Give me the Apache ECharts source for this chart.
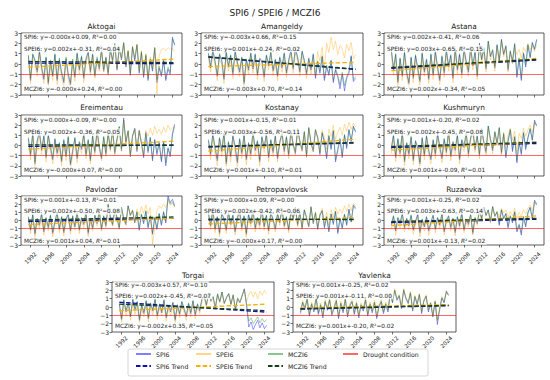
<!DOCTYPE html>
<html><head><meta charset="utf-8">
<script src="https://cdn.jsdelivr.net/npm/echarts@6/dist/echarts.min.js"></script>
<style>html,body{margin:0;padding:0;background:#fff}#c{width:550px;height:380px}</style>
</head><body><div id="c"></div>
<script>
// ---------- DATA ----------
const years = [1991.5,1992,1992.5,1993,1993.5,1994,1994.5,1995,1995.5,1996,
 1996.5,1997,1997.5,1998,1998.5,1999,1999.5,2000,2000.5,2001,
 2001.5,2002,2002.5,2003,2003.5,2004,2004.5,2005,2005.5,2006,
 2006.5,2007,2007.5,2008,2008.5,2009,2009.5,2010,2010.5,2011,
 2011.5,2012,2012.5,2013,2013.5,2014,2014.5,2015,2015.5,2016,
 2016.5,2017,2017.5,2018,2018.5,2019,2019.5,2020,2020.5,2021,
 2021.5,2022,2022.5,2023,2023.5,2024,2024.5];
const xTickYears = [1992,1996,2000,2004,2008,2012,2016,2020,2024];
const yTicks = [-3,-2,-1,0,1,2,3];
const droughtLevel = -1;
const stations = ['Aktogai','Amangeldy','Astana','Ereimentau','Kostanay','Kushmuryn','Pavlodar','Petropavlovsk','Ruzaevka','Torgai','Yavlenka'];

const aktogaiSPI6 = [0.8,-1.6,0.9,0.3,-0.8,1.2,-0.4,-1.5,0.6,-1.9,
 0.2,-1.2,0.9,-1.6,0.4,-0.9,-1.8,0.5,-1.1,-2.0,
 0.3,-1.3,1.0,-0.6,0.7,-1.4,0.4,1.1,-0.8,0.9,
 -1.2,0.5,-0.5,1.3,-0.7,0.6,-1.0,1.4,0.2,1.9,
 -0.6,1.5,0.4,2.0,-0.3,1.2,-1.1,1.6,0.3,1.8,
 -0.9,1.1,-1.3,0.8,-1.6,0.4,-0.7,1.5,-1.8,-0.4,
 -1.2,0.3,-1.6,-0.5,-1.0,2.6,1.8];
const aktogaiMCZI6 = [0.9,-1.4,1.0,0.4,-0.6,1.3,-0.2,-1.3,0.7,-1.7,
 0.4,-1.0,1.0,-1.4,0.6,-0.7,-1.6,0.7,-0.9,-1.8,
 0.5,-1.1,1.1,-0.4,0.8,-1.2,0.6,1.2,-0.6,1.0,
 -1.0,0.7,-0.3,1.4,-0.5,0.7,-0.8,1.5,0.4,2.0,
 -0.4,1.6,0.6,2.1,-0.1,1.3,-0.9,1.7,0.5,1.9,
 -0.7,1.2,-1.1,0.9,-1.4,0.5,-0.5,1.6,-1.5,-0.2,
 -1.0,0.4,-1.4,-0.3,-0.8,2.4,1.9];
const aktogaiSPEI6 = [0.4,-1.9,0.6,-0.2,-1.2,0.9,-0.8,-1.9,0.2,-2.2,
 -0.3,-1.6,0.5,-2.0,-0.1,-1.3,-2.2,0.1,-1.5,-2.4,
 -0.1,-1.7,0.6,-1.0,0.3,-1.8,0.1,0.8,-1.1,0.7,
 -1.4,0.3,-0.7,1.2,-0.8,0.5,-1.1,1.3,0.3,1.8,
 -0.5,1.5,0.5,2.0,-0.2,1.3,-0.9,1.7,0.6,1.9,
 -0.6,1.3,-1.0,1.0,-1.2,0.7,-0.4,1.6,-2.9,0.8,
 1.4,1.5,1.3,1.6,1.4,1.5,1.2];

const amangeldySPI6 = [1.0,-0.4,1.3,0.2,-1.2,0.9,0.3,-1.5,1.1,-0.3,
 0.8,-1.0,1.2,0.1,-0.8,0.6,-1.9,0.4,-0.6,1.0,
 -0.5,0.9,-1.1,0.5,0.2,-1.3,0.8,-0.2,1.1,-0.7,
 0.4,-1.2,0.6,-0.4,1.0,-0.9,0.3,1.3,-0.5,1.5,
 0.6,-0.8,1.2,0.3,-1.0,0.5,-0.6,0.9,-1.4,0.2,
 -0.9,0.7,-1.6,-0.3,-1.1,0.3,-1.8,-0.6,-1.3,-2.4,
 -1.0,-2.6,-1.4,-0.9,0.8,-1.7,-1.4];
const amangeldyMCZI6 = [1.1,-0.2,1.4,0.3,-1.0,1.0,0.4,-1.3,1.2,-0.1,
 0.9,-0.8,1.3,0.2,-0.6,0.7,-1.7,0.5,-0.4,1.1,
 -0.3,1.0,-0.9,0.6,0.3,-1.1,0.9,0.0,1.2,-0.5,
 0.5,-1.0,0.7,-0.2,1.1,-0.7,0.4,1.4,-0.3,1.5,
 0.7,-0.6,1.3,0.4,-0.8,0.6,-0.4,1.0,-1.2,0.3,
 -0.7,0.8,-1.4,-0.1,-0.9,0.4,-1.6,-0.4,-1.1,-2.0,
 -0.8,-2.1,-1.2,-0.7,0.7,-1.5,-1.2];
const amangeldySPEI6 = [0.6,-0.8,0.9,-0.2,-1.6,0.5,-0.1,-1.9,0.7,-0.7,
 0.4,-1.4,0.8,-0.3,-1.2,0.2,-2.3,0.0,-1.0,0.6,
 -0.9,0.5,-1.5,0.1,-0.2,-1.7,0.4,-0.6,0.7,-1.1,
 0.0,-1.6,0.2,-0.8,0.6,-1.3,-0.1,0.9,-0.9,1.1,
 0.2,-1.2,0.8,-0.1,-1.4,0.1,-1.0,0.5,-0.8,1.2,
 0.3,1.6,-0.4,2.0,1.1,2.6,1.4,2.2,0.9,1.8,
 1.5,0.6,1.9,1.3,2.1,0.5,0.9];

const astanaSPI6 = [1.4,-0.6,0.9,-1.8,0.5,-1.2,1.1,-0.9,-1.9,0.6,
 -1.4,0.8,-0.5,-1.7,1.0,-0.8,0.4,-1.5,0.9,-1.1,
 1.2,-0.4,-1.6,0.7,-0.9,1.3,-0.3,0.8,-1.4,1.5,
 -0.6,0.9,-1.0,1.4,0.2,-0.8,1.6,-0.2,1.1,-1.2,
 2.0,0.4,1.5,-0.5,2.2,0.7,1.3,-0.4,1.8,0.3,
 2.4,0.9,1.7,-0.6,1.2,0.2,1.9,-1.3,0.5,-1.6,
 1.0,-0.3,1.8,0.6,2.1,1.4,2.4];
const astanaMCZI6 = [1.5,-0.4,1.0,-1.6,0.6,-1.0,1.2,-0.7,-1.7,0.7,
 -1.2,0.9,-0.3,-1.5,1.1,-0.6,0.5,-1.3,1.0,-0.9,
 1.3,-0.2,-1.4,0.8,-0.7,1.4,-0.1,0.9,-1.2,1.6,
 -0.4,1.0,-0.8,1.5,0.3,-0.6,1.7,0.0,1.2,-1.0,
 2.0,0.5,1.6,-0.3,2.2,0.8,1.4,-0.2,1.9,0.4,
 2.3,1.0,1.8,-0.4,1.3,0.3,2.0,-1.1,0.6,-1.4,
 1.1,-0.1,1.9,0.7,2.0,1.5,2.3];
const astanaSPEI6 = [1.0,-1.1,0.5,-2.2,0.1,-1.6,0.7,-1.3,-2.3,0.2,
 -1.8,0.4,-0.9,-2.1,0.6,-1.2,0.0,-1.9,0.5,-1.5,
 0.8,-0.8,-2.0,0.3,-1.3,0.9,-0.7,0.4,-1.8,1.1,
 -1.0,0.5,-1.4,1.0,-0.2,-1.2,1.2,-0.6,0.7,-1.5,
 1.7,0.1,1.2,-0.8,1.9,0.4,1.0,-0.7,1.5,0.1,
 2.1,0.7,1.5,-0.8,1.0,0.0,1.7,0.9,1.4,0.6,
 1.6,1.2,2.0,1.4,1.8,1.2,1.9];

const ereimentauSPI6 = [0.7,-1.0,1.2,-1.8,0.4,1.3,-0.5,0.9,-1.2,1.0,
 -0.3,-1.4,0.6,-0.8,0.2,-1.6,0.5,-1.1,0.8,-1.9,
 -0.6,0.7,-1.3,0.3,-0.4,1.1,-1.0,0.5,-1.5,0.9,
 -0.7,1.4,-0.2,-1.3,0.8,-0.9,1.2,-0.4,1.5,-0.8,
 0.6,1.8,-0.5,2.7,0.3,1.4,-1.1,0.9,1.7,-0.6,
 1.5,0.2,-1.2,1.3,-0.7,0.8,-1.5,0.6,-0.9,0.3,
 -1.6,0.4,-2.0,-0.3,-1.1,1.2,2.1];
const ereimentauMCZI6 = [0.8,-0.8,1.3,-1.6,0.5,1.4,-0.3,1.0,-1.0,1.1,
 -0.1,-1.2,0.7,-0.6,0.3,-1.4,0.6,-0.9,0.9,-1.7,
 -0.4,0.8,-1.1,0.4,-0.2,1.2,-0.8,0.6,-1.3,1.0,
 -0.5,1.5,0.0,-1.1,0.9,-0.7,1.3,-0.2,1.6,-0.6,
 0.7,1.9,-0.3,2.5,0.4,1.5,-0.9,1.0,1.6,-0.4,
 1.4,0.3,-1.0,1.2,-0.5,0.7,-1.3,0.5,-0.7,0.2,
 -1.4,0.3,-1.7,-0.2,-0.9,1.0,1.9];
const ereimentauSPEI6 = [0.3,-1.4,0.8,-2.1,0.0,0.9,-0.9,0.5,-1.6,0.6,
 -0.7,-1.8,0.2,-1.2,-0.2,-2.0,0.1,-1.5,0.4,-2.3,
 -1.0,0.3,-1.7,-0.1,-0.8,0.8,-1.3,0.2,-1.8,0.6,
 -1.0,1.1,-0.5,-1.5,0.6,-1.1,1.0,-0.6,1.3,-1.0,
 0.4,1.6,-0.6,2.4,0.2,1.3,-1.0,0.8,1.6,-0.5,
 1.5,0.4,-0.8,1.5,0.9,1.7,1.0,1.9,1.2,1.6,
 1.1,1.8,1.3,2.0,1.5,1.7,2.0];

const kostanaySPI6 = [0.5,-0.9,1.1,-0.3,-1.5,0.7,-0.6,1.2,-1.8,0.3,
 -1.1,0.9,-0.2,-1.7,0.6,-0.8,1.0,-1.4,0.2,-0.9,
 1.3,-0.5,0.4,-1.6,0.8,-0.3,1.1,-1.2,0.5,-0.7,
 0.9,-1.3,0.3,1.2,-0.6,0.8,-1.0,1.4,0.1,-0.8,
 1.6,0.4,-0.5,1.3,-1.1,1.7,0.2,-0.6,1.5,0.7,
 -0.9,1.2,0.3,-1.3,0.9,-0.4,1.4,-1.6,-0.5,0.6,
 -1.2,1.0,-0.3,1.5,0.4,1.9,1.3];
const kostanayMCZI6 = [0.6,-0.7,1.2,-0.1,-1.3,0.8,-0.4,1.3,-1.6,0.4,
 -0.9,1.0,0.0,-1.5,0.7,-0.6,1.1,-1.2,0.3,-0.7,
 1.4,-0.3,0.5,-1.4,0.9,-0.1,1.2,-1.0,0.6,-0.5,
 1.0,-1.1,0.4,1.3,-0.4,0.9,-0.8,1.5,0.2,-0.6,
 1.7,0.5,-0.3,1.4,-0.9,1.8,0.3,-0.4,1.6,0.8,
 -0.7,1.3,0.4,-1.1,1.0,-0.2,1.5,-1.4,-0.3,0.7,
 -1.0,1.1,-0.1,1.6,0.5,1.8,1.4];
const kostanaySPEI6 = [0.1,-1.4,0.7,-0.8,-2.0,0.3,-1.1,0.8,-2.3,-0.2,
 -1.6,0.5,-0.7,-2.2,0.2,-1.3,0.6,-1.9,-0.2,-1.4,
 0.9,-1.0,0.0,-2.0,0.4,-0.7,0.8,-1.6,0.2,-1.1,
 0.6,-1.6,0.0,1.0,-0.9,0.6,-1.3,1.2,-0.1,-1.0,
 1.4,0.3,-0.6,1.2,-1.2,1.6,0.2,-0.6,1.5,0.8,
 -0.6,1.5,0.8,-0.4,1.6,0.9,2.0,0.6,1.3,1.8,
 1.0,2.1,1.4,2.3,1.6,2.2,1.8];

const kushmurynSPI6 = [-0.4,1.0,-1.2,0.6,-0.8,1.3,-1.6,0.2,-0.9,0.8,
 -1.5,0.4,-0.3,-1.8,0.7,-1.0,0.9,-0.6,-1.4,0.5,
 -0.9,1.1,-0.2,-1.3,0.6,-0.7,1.4,-1.1,0.3,-0.5,
 1.0,-1.4,0.5,-0.2,1.2,-0.9,0.7,1.5,-0.4,0.9,
 -1.0,1.6,0.3,-0.7,1.9,0.6,-0.5,1.3,0.2,1.7,
 -0.8,1.1,-1.2,0.4,1.5,-0.6,0.8,-1.7,0.3,-0.9,
 1.2,-0.4,0.7,1.6,0.5,2.5,1.9];
const kushmurynMCZI6 = [-0.2,1.1,-1.0,0.7,-0.6,1.4,-1.4,0.3,-0.7,0.9,
 -1.3,0.5,-0.1,-1.6,0.8,-0.8,1.0,-0.4,-1.2,0.6,
 -0.7,1.2,0.0,-1.1,0.7,-0.5,1.5,-0.9,0.4,-0.3,
 1.1,-1.2,0.6,0.0,1.3,-0.7,0.8,1.6,-0.2,1.0,
 -0.8,1.7,0.4,-0.5,1.9,0.7,-0.3,1.4,0.3,1.8,
 -0.6,1.2,-1.0,0.5,1.6,-0.4,0.9,-1.5,0.4,-0.7,
 1.3,-0.2,0.8,1.7,0.6,2.3,2.0];
const kushmurynSPEI6 = [-0.8,0.6,-1.6,0.2,-1.2,0.9,-2.0,-0.2,-1.3,0.4,
 -1.9,0.0,-0.7,-2.2,0.3,-1.4,0.5,-1.0,-1.8,0.1,
 -1.3,0.7,-0.6,-1.7,0.2,-1.1,1.0,-1.5,-0.1,-0.9,
 0.6,-1.8,0.1,-0.6,0.9,-1.2,0.4,1.2,-0.7,0.6,
 -1.3,1.3,0.0,-1.0,1.6,0.4,-0.8,1.1,0.0,1.5,
 -0.9,1.3,-0.3,1.0,1.7,0.5,1.4,-0.6,1.2,0.7,
 1.7,0.9,1.5,2.0,1.3,2.2,1.9];

const pavlodarSPI6 = [0.4,-1.2,0.7,-1.7,0.2,-0.6,0.8,-1.4,0.3,-0.9,
 0.6,-1.6,-0.2,0.9,-1.1,0.4,-1.5,0.1,0.7,-1.3,
 0.5,-0.8,1.0,-1.2,0.3,-0.5,0.9,-1.6,0.2,-1.0,
 0.6,-0.4,1.1,-1.1,0.5,-0.7,2.0,0.4,-0.6,1.3,
 0.3,-1.0,1.6,0.2,-0.5,1.8,0.6,1.2,-0.3,1.0,
 -1.2,0.7,-0.4,1.1,-0.9,0.5,-1.7,0.3,-1.1,0.8,
 -0.6,1.0,-0.3,3.0,2.2,2.6,1.8];
const pavlodarMCZI6 = [0.5,-1.0,0.8,-1.5,0.3,-0.4,0.9,-1.2,0.4,-0.7,
 0.7,-1.4,0.0,1.0,-0.9,0.5,-1.3,0.2,0.8,-1.1,
 0.6,-0.6,1.1,-1.0,0.4,-0.3,1.0,-1.4,0.3,-0.8,
 0.7,-0.2,1.2,-0.9,0.6,-0.5,1.9,0.5,-0.4,1.4,
 0.4,-0.8,1.6,0.3,-0.3,1.8,0.7,1.3,-0.1,1.1,
 -1.0,0.8,-0.2,1.2,-0.7,0.6,-1.5,0.4,-0.9,0.9,
 -0.4,1.1,-0.1,2.7,2.0,2.3,1.7];
const pavlodarSPEI6 = [0.0,-1.6,0.3,-2.1,-0.2,-1.0,0.4,-1.8,-0.1,-1.3,
 0.2,-2.0,-0.6,0.5,-1.5,0.0,-1.9,-0.3,0.3,-1.7,
 0.1,-1.2,0.7,-1.6,0.0,-0.9,0.6,-2.0,-0.1,-1.3,
 0.4,-0.7,0.9,-1.3,0.3,-0.9,1.8,0.3,-0.7,1.2,
 0.2,-1.1,1.5,0.1,-0.6,1.7,0.6,1.2,-0.3,1.4,
 0.6,1.7,0.9,1.9,0.8,1.6,-2.9,-1.0,1.2,1.8,
 1.5,2.0,1.6,2.4,1.9,2.1,1.6];

const petropavlovskSPI6 = [0.9,-0.7,1.3,-1.1,0.4,-1.6,0.8,0.2,-1.2,1.0,
 -0.5,0.6,-1.4,0.3,1.1,-0.9,0.5,-1.7,0.7,-0.4,
 1.2,-1.0,0.3,-0.6,1.4,-0.8,0.6,-1.3,0.9,0.1,
 -1.1,0.8,-0.3,1.5,-0.7,0.4,-1.2,1.1,0.2,1.6,
 -0.6,1.0,-1.0,1.3,0.3,-0.8,1.7,-0.4,0.9,-1.1,
 0.6,1.2,-0.9,0.4,-1.4,0.8,-0.5,1.1,-1.6,0.2,
 -1.0,0.7,-0.6,1.4,-0.2,1.9,1.5];
const petropavlovskMCZI6 = [1.0,-0.5,1.4,-0.9,0.5,-1.4,0.9,0.3,-1.0,1.1,
 -0.3,0.7,-1.2,0.4,1.2,-0.7,0.6,-1.5,0.8,-0.2,
 1.3,-0.8,0.4,-0.4,1.5,-0.6,0.7,-1.1,1.0,0.2,
 -0.9,0.9,-0.1,1.5,-0.5,0.5,-1.0,1.2,0.3,1.6,
 -0.4,1.1,-0.8,1.3,0.4,-0.6,1.6,-0.2,1.0,-0.9,
 0.7,1.2,-0.7,0.5,-1.2,0.8,-0.3,1.1,-1.4,0.3,
 -0.8,0.8,-0.4,1.3,-0.1,1.7,1.4];
const petropavlovskSPEI6 = [0.5,-1.1,0.9,-1.5,0.0,-2.0,0.4,-0.2,-1.6,0.6,
 -0.9,0.2,-1.8,-0.1,0.7,-1.3,0.1,-2.1,0.3,-0.8,
 0.8,-1.4,-0.1,-1.0,1.0,-1.2,0.2,-1.7,0.5,-0.3,
 -1.4,0.5,-0.6,1.2,-1.0,0.1,-1.5,0.9,0.0,1.4,
 -0.8,0.9,-1.1,1.2,0.3,-0.8,1.6,-0.3,1.0,-0.7,
 0.9,1.5,-0.3,1.0,-0.6,1.3,0.4,1.6,0.8,1.4,
 0.9,1.8,1.1,2.0,1.2,2.1,1.7];

const ruzaevkaSPI6 = [-0.6,0.5,-1.3,0.3,-0.4,0.8,-0.9,0.2,-0.7,0.6,
 -1.2,-0.2,0.7,-1.5,0.1,-0.8,0.4,-1.3,-0.3,0.6,
 -1.1,0.3,-0.6,0.8,-1.4,-0.1,0.5,-0.9,0.2,-1.5,
 0.4,-0.7,0.9,-1.2,0.1,-0.5,0.7,-1.6,0.3,-0.4,
 1.2,0.2,1.6,0.6,1.3,-0.2,1.7,0.5,1.0,-0.6,
 1.3,0.2,0.8,-0.9,0.5,-0.3,1.0,-1.4,-0.6,-1.8,
 0.4,-0.8,0.9,1.6,0.2,2.5,2.0];
const ruzaevkaMCZI6 = [-0.4,0.6,-1.1,0.4,-0.2,0.9,-0.7,0.3,-0.5,0.7,
 -1.0,0.0,0.8,-1.3,0.2,-0.6,0.5,-1.1,-0.1,0.7,
 -0.9,0.4,-0.4,0.9,-1.2,0.1,0.6,-0.7,0.3,-1.3,
 0.5,-0.5,1.0,-1.0,0.2,-0.3,0.8,-1.4,0.4,-0.2,
 1.3,0.3,1.6,0.7,1.3,0.0,1.7,0.6,1.1,-0.4,
 1.3,0.3,0.9,-0.7,0.6,-0.1,1.1,-1.2,-0.4,-1.5,
 0.5,-0.6,1.0,1.6,0.3,2.3,1.9];
const ruzaevkaSPEI6 = [-1.0,0.1,-1.8,-0.1,-0.9,0.4,-1.4,-0.2,-1.2,0.2,
 -1.7,-0.6,0.3,-2.0,-0.3,-1.3,0.0,-1.8,-0.7,0.2,
 -1.5,-0.1,-1.0,0.5,-1.8,-0.5,0.2,-1.3,-0.1,-1.9,
 0.1,-1.1,0.6,-1.5,-0.2,-0.8,0.5,-1.8,0.1,-0.6,
 1.0,0.1,1.5,0.5,1.2,-0.3,1.6,0.5,1.1,0.4,
 1.5,0.9,1.3,0.4,1.1,0.6,1.5,0.2,1.0,0.5,
 1.3,0.8,1.5,1.9,1.2,2.2,1.9];

const torgaiSPI6 = [0.3,-1.5,0.8,-0.6,0.5,-1.2,0.9,-0.4,0.6,-1.6,
 0.2,-0.8,0.7,-1.4,0.4,-0.5,0.9,-1.1,0.3,-0.7,
 0.8,-1.3,0.1,-0.6,0.5,-1.6,0.2,-0.9,0.6,-0.3,
 -1.2,0.4,-0.8,0.7,-1.0,0.3,-0.5,0.9,1.3,0.2,
 1.6,0.7,1.2,-0.2,1.5,0.6,1.8,0.4,1.1,1.6,
 0.3,1.4,-0.4,1.0,0.5,1.3,2.2,0.2,-2.4,-1.8,
 -2.7,-2.1,-1.6,-2.5,-1.9,-2.6,-2.2];
const torgaiMCZI6 = [0.4,-1.3,0.9,-0.4,0.6,-1.0,1.0,-0.2,0.7,-1.4,
 0.3,-0.6,0.8,-1.2,0.5,-0.3,1.0,-0.9,0.4,-0.5,
 0.9,-1.1,0.2,-0.4,0.6,-1.4,0.3,-0.7,0.7,-0.1,
 -1.0,0.5,-0.6,0.8,-0.8,0.4,-0.3,1.0,1.4,0.3,
 1.7,0.8,1.3,0.0,1.6,0.7,1.8,0.5,1.2,1.6,
 0.4,1.5,-0.2,1.1,0.6,1.4,2.1,0.3,-1.7,-1.3,
 -2.0,-1.6,-1.2,-1.9,-1.4,-1.8,-1.5];
const torgaiSPEI6 = [-0.2,-1.9,0.4,-1.1,0.0,-1.6,0.5,-0.9,0.2,-2.0,
 -0.3,-1.2,0.3,-1.8,0.0,-1.0,0.5,-1.5,-0.1,-1.1,
 0.4,-1.7,-0.3,-1.0,0.1,-2.0,-0.2,-1.3,0.2,-0.7,
 -1.6,0.0,-1.2,0.4,-1.4,0.0,-0.8,0.7,1.1,0.0,
 1.5,0.6,1.1,-0.3,1.4,0.5,1.7,0.4,1.0,1.5,
 0.3,1.4,-0.3,1.0,0.5,1.3,2.1,0.6,1.5,1.9,
 1.2,1.8,1.0,1.9,1.4,2.0,1.6];

const yavlenkaSPI6 = [-0.8,0.5,-0.3,0.9,-1.1,0.3,-0.6,1.0,-0.9,0.2,
 -1.3,0.6,-0.4,0.8,-1.0,-0.2,0.7,-1.4,0.4,-0.7,
 0.9,-1.2,0.1,0.6,-0.9,0.4,-1.3,0.2,-0.5,0.8,
 -1.1,0.3,-0.7,0.5,-1.4,0.0,0.6,-0.8,0.3,-0.6,
 1.6,0.5,2.0,0.8,1.3,-0.2,2.1,1.0,0.4,1.7,
 -0.5,1.2,0.3,1.5,-0.8,0.7,1.3,-0.6,0.4,-1.2,
 0.6,-2.1,-0.4,1.1,0.5,1.9,1.4];
const yavlenkaMCZI6 = [-0.6,0.6,-0.1,1.0,-0.9,0.4,-0.4,1.1,-0.7,0.3,
 -1.1,0.7,-0.2,0.9,-0.8,0.0,0.8,-1.2,0.5,-0.5,
 1.0,-1.0,0.2,0.7,-0.7,0.5,-1.1,0.3,-0.3,0.9,
 -0.9,0.4,-0.5,0.6,-1.2,0.1,0.7,-0.6,0.4,-0.4,
 1.6,0.6,2.0,0.9,1.4,0.0,2.0,1.1,0.5,1.7,
 -0.3,1.3,0.4,1.5,-0.6,0.8,1.3,-0.4,0.5,-1.0,
 0.7,-1.6,-0.2,1.1,0.6,1.8,1.4];
const yavlenkaSPEI6 = [-0.5,0.8,0.0,1.2,-0.8,0.6,-0.3,1.3,-0.6,0.5,
 -1.0,0.9,-0.1,1.1,-0.7,0.1,1.0,-1.1,0.7,-0.4,
 1.2,-0.9,0.4,0.9,-0.6,0.7,-1.0,0.5,-0.2,1.1,
 -0.8,0.6,-0.4,0.8,-1.1,0.3,0.9,-0.5,0.6,-0.3,
 1.8,0.7,2.2,1.0,1.5,0.1,2.2,1.2,0.6,1.9,
 -0.3,1.4,0.5,1.6,-0.6,0.9,1.5,-0.3,0.6,-1.0,
 0.8,-1.7,-0.1,1.3,0.7,2.0,1.6];

const spi6Series = [aktogaiSPI6,amangeldySPI6,astanaSPI6,ereimentauSPI6,kostanaySPI6,kushmurynSPI6,pavlodarSPI6,petropavlovskSPI6,ruzaevkaSPI6,torgaiSPI6,yavlenkaSPI6];
const spei6Series = [aktogaiSPEI6,amangeldySPEI6,astanaSPEI6,ereimentauSPEI6,kostanaySPEI6,kushmurynSPEI6,pavlodarSPEI6,petropavlovskSPEI6,ruzaevkaSPEI6,torgaiSPEI6,yavlenkaSPEI6];
const mczi6Series = [aktogaiMCZI6,amangeldyMCZI6,astanaMCZI6,ereimentauMCZI6,kostanayMCZI6,kushmurynMCZI6,pavlodarMCZI6,petropavlovskMCZI6,ruzaevkaMCZI6,torgaiMCZI6,yavlenkaMCZI6];

// trend line end values (start of record, end of record)
const spi6TrendStart  = [0.09,0.66,-0.41,-0.09,-0.15,-0.20,-0.13,0.09,-0.25,0.57,-0.25];
const spi6TrendEnd    = [0.03,-0.53,0.38,0.05,0.25,0.20,0.27,0.15,0.15,-0.62,0.15];
const spei6TrendStart = [-0.31,-0.24,-0.65,-0.36,-0.56,-0.45,-0.50,-0.42,-0.63,-0.45,-0.11];
const spei6TrendEnd   = [0.48,0.16,0.54,0.43,0.63,0.34,0.29,0.37,0.56,0.34,0.29];
const mczi6TrendStart = [0.24,0.70,-0.34,0.07,-0.10,-0.09,0.04,0.17,-0.13,0.35,-0.20];
const mczi6TrendEnd   = [0.14,-0.49,0.45,0.02,0.30,0.31,0.44,0.12,0.27,-0.44,0.20];

const spi6Eq  = ['y=-0.000x+0.09','y=-0.003x+0.66','y=0.002x+-0.41','y=0.000x+-0.09','y=0.001x+-0.15','y=0.001x+-0.20','y=0.001x+-0.13','y=0.000x+0.09','y=0.001x+-0.25','y=-0.003x+0.57','y=0.001x+-0.25'];
const spi6R2  = ['0.00','0.15','0.06','0.00','0.01','0.02','0.01','0.00','0.02','0.10','0.02'];
const spei6Eq = ['y=0.002x+-0.31','y=0.001x+-0.24','y=0.003x+-0.65','y=0.002x+-0.36','y=0.003x+-0.56','y=0.002x+-0.45','y=0.002x+-0.50','y=0.002x+-0.42','y=0.003x+-0.63','y=0.002x+-0.45','y=0.001x+-0.11'];
const spei6R2 = ['0.04','0.02','0.15','0.05','0.11','0.08','0.08','0.06','0.14','0.07','0.00'];
const mczi6Eq = ['y=-0.000x+0.24','y=-0.003x+0.70','y=0.002x+-0.34','y=-0.000x+0.07','y=0.001x+-0.10','y=0.001x+-0.09','y=0.001x+0.04','y=-0.000x+0.17','y=0.001x+-0.13','y=-0.002x+0.35','y=0.001x+-0.20'];
const mczi6R2 = ['0.00','0.14','0.05','0.00','0.01','0.01','0.01','0.00','0.02','0.05','0.02'];

// ---------- LAYOUT / STYLE ----------
const FONT = "'DejaVu Sans', sans-serif";
const TXT = '#222';
const C_SPI = 'rgba(0,0,255,0.5)', C_SPEI = 'rgba(255,165,0,0.45)', C_MCZI = 'rgba(0,128,0,0.45)';
const C_SPIT = '#1010a8', C_SPEIT = '#f5b000', C_MCZIT = '#174017', C_DRY = 'rgba(255,0,0,0.6)';
const DASH = [4.5, 2.2];
const boxes = [
 [21,33,161,62,0],[201,33,162,62,0],[384,33,160,62,0],
 [21,115,161,61,1],[201,115,162,61,1],[384,115,160,61,1],
 [21,196,161,49,2],[201,196,162,49,2],[384,196,160,49,2],
 [112,282,162,50,3],[293,282,163,50,3]
];
const rowTextOff = [[4,15.5,6],[4.5,17,6],[4,15,4],[3,13.5,6]];
const rowTitleOff = [6.5,8,6.5,7];
const rowLabelMargin = [0,0,13,10];

const grid=[], xAxis=[], yAxis=[], series=[], graphic=[];
boxes.forEach(([x,y,w,h,row],i)=>{
  grid.push({left:x, top:y, width:w, height:h, show:true, borderColor:'#333', borderWidth:0.8, backgroundColor:'transparent'});
  xAxis.push({type:'value', gridIndex:i, min:1989.85, max:2026.15,
    axisLine:{show:false,onZero:false}, splitLine:{show:false},
    axisTick:{show:true, length:2.5, lineStyle:{color:'#333',width:0.7}, customValues:xTickYears},
    axisLabel:{show:row>=2, customValues:xTickYears, rotate:45, fontSize:5.6, color:TXT, fontFamily:FONT,
      margin:rowLabelMargin[row], align:'center', verticalAlign:'middle', formatter:v=>String(v)}});
  yAxis.push({type:'value', gridIndex:i, min:-3, max:3, interval:1,
    axisLine:{show:false,onZero:false}, splitLine:{show:false},
    axisTick:{show:true, length:2.5, lineStyle:{color:'#333',width:0.7}},
    axisLabel:{fontSize:6, color:TXT, fontFamily:FONT, margin:3, formatter:v=>String(v).replace('-','\u2212')}});
  const mk = (arr)=>years.map((t,k)=>[t,arr[k]]);
  const line = (name,data,color,width,type)=>({name,type:'line',xAxisIndex:i,yAxisIndex:i,data,symbol:'none',silent:true,
    lineStyle:{color,width,type:type||'solid'},itemStyle:{color},emphasis:{disabled:true}});
  const t0 = years[0], t1 = years[years.length-1];
  series.push(line('SPI6', mk(spi6Series[i]), C_SPI, 0.8));
  series.push(line('SPEI6', mk(spei6Series[i]), C_SPEI, 0.8));
  series.push(line('MCZI6', mk(mczi6Series[i]), C_MCZI, 0.8));
  series.push(line('SPI6 Trend', [[t0,spi6TrendStart[i]],[t1,spi6TrendEnd[i]]], C_SPIT, 1.3, DASH));
  series.push(line('SPEI6 Trend', [[t0,spei6TrendStart[i]],[t1,spei6TrendEnd[i]]], C_SPEIT, 1.3, DASH));
  series.push(line('MCZI6 Trend', [[t0,mczi6TrendStart[i]],[t1,mczi6TrendEnd[i]]], C_MCZIT, 1.3, DASH));
  const dry = line('Drought condition', [], C_DRY, 1);
  dry.markLine = {silent:true, symbol:'none', animation:false, label:{show:false},
    lineStyle:{color:C_DRY,width:1,type:'solid'}, emphasis:{disabled:true}, data:[{yAxis:droughtLevel}]};
  series.push(dry);

  graphic.push({type:'text', x:x+w/2, y:y-rowTitleOff[row], silent:true,
    style:{text:stations[i], fontSize:7.4, fontFamily:FONT, fill:TXT, align:'center', verticalAlign:'middle'}});
  const off = rowTextOff[row];
  const ann = (label,eq,r2,ty)=>({type:'text', x:x+1.5, y:ty, z:10, silent:true,
    style:{text:label+': '+eq+', {i|R}\u00b2='+r2, fontSize:5.8, fontFamily:FONT, fill:TXT,
      align:'left', verticalAlign:'middle', backgroundColor:'rgba(255,255,255,0.78)', padding:[1,1.5,0.5,1.5],
      rich:{i:{fontStyle:'italic', fontSize:5.8, fontFamily:FONT, fill:TXT}}}});
  graphic.push(ann('SPI6', spi6Eq[i], spi6R2[i], y+off[0]));
  graphic.push(ann('SPEI6', spei6Eq[i], spei6R2[i], y+off[1]));
  graphic.push(ann('MCZI6', mczi6Eq[i], mczi6R2[i], y+h-off[2]));
});

graphic.push({type:'rect', z:0, silent:true, shape:{x:128,y:349,width:300,height:27,r:2},
  style:{fill:'rgba(255,255,255,0.9)', stroke:'#cccccc', lineWidth:0.8}});

const legendItems = [['SPI6',135,351],['SPEI6',195,351],['MCZI6',267,351],['Drought condition',342,351],
  ['SPI6 Trend',135,363],['SPEI6 Trend',195,363],['MCZI6 Trend',267,363]];
const legend = legendItems.map(([n,l,t])=>({data:[n], left:l, top:t, orient:'horizontal', itemWidth:15, itemHeight:7,
  padding:0, selectedMode:false, z:20, itemStyle:{color:'rgba(0,0,0,0)', borderWidth:0, opacity:0},
  textStyle:{fontSize:6.2, color:TXT, fontFamily:FONT}}));

const chart = echarts.init(document.getElementById('c'), null, {renderer:'svg'});
chart.setOption({
  animation:false,
  backgroundColor:'#fff',
  title:{text:'SPI6 / SPEI6 / MCZI6', left:'center', top:8, padding:0,
    textStyle:{fontSize:9, fontWeight:'normal', color:TXT, fontFamily:FONT}},
  legend, grid, xAxis, yAxis, series, graphic
});
</script></body></html>
